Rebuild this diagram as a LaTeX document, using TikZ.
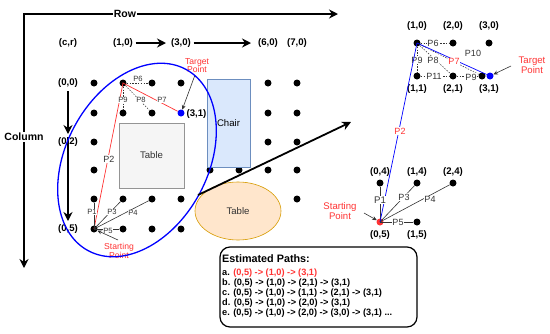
\documentclass[tikz,border=0pt]{standalone}
\usepackage{fontspec}
\setmainfont{Liberation Sans}
\usetikzlibrary{arrows.meta,shapes.geometric}
\definecolor{myred}{RGB}{255,51,51}
\definecolor{pgray}{RGB}{51,51,51}
\definecolor{chairfill}{RGB}{218,232,252}
\definecolor{chairdraw}{RGB}{108,142,191}
\definecolor{tablefill}{RGB}{245,245,245}
\definecolor{tabledraw}{RGB}{102,102,102}
\definecolor{otablefill}{RGB}{255,230,204}
\definecolor{otabledraw}{RGB}{215,155,0}
\begin{document}
\begin{tikzpicture}[x=1pt,y=-1pt,
  dot/.style={circle,fill=black,inner sep=0pt,minimum size=7pt},
  bdot/.style={circle,fill=blue,inner sep=0pt,minimum size=7pt},
  rdot/.style={circle,fill=myred,inner sep=0pt,minimum size=7pt},
  clbl/.style={font=\bfseries\fontsize{9.6}{11}\selectfont,inner sep=0.5pt},
  plbl/.style={font=\fontsize{7.6}{9}\selectfont,text=pgray,fill=white,inner sep=0.4pt},
  pbig/.style={font=\fontsize{9}{10}\selectfont,text=pgray,fill=white,inner sep=0.4pt},
  redlbl/.style={font=\fontsize{8.6}{9}\selectfont,text=myred,align=center,inner sep=0pt},
  bigarrow/.style={line width=1.7pt,-{Stealth[length=9pt,width=9pt]}},
  dlink/.style={pgray,line width=0.5pt,dash pattern=on 1.5pt off 1.3pt},
  slink/.style={pgray,line width=0.6pt},
  pointer/.style={pgray,line width=0.6pt,-{Stealth[length=4.5pt,width=4pt]}},
  pathline/.style={font=\bfseries\fontsize{9.2}{10}\selectfont,anchor=west,inner sep=0pt}]
\useasboundingbox (0,0) rectangle (550,333);

% axes
\coordinate (origin) at (24,14);
\coordinate (rowend) at (338,14);
\coordinate (colend) at (24,268);
\draw[line width=1.6pt,{Stealth[length=9pt,width=9pt]}-{Stealth[length=9pt,width=9pt]}] (rowend) -- (origin) -- (colend);
\node[fill=white,inner sep=1pt,font=\bfseries\fontsize{10.5}{12}\selectfont] (rowlbl) at (125,14) {Row};
\node[fill=white,inner sep=1pt,font=\bfseries\fontsize{10.5}{12}\selectfont] (collbl) at (24,137) {Column};

% header labels
\node[clbl] (cr) at (68,43) {(c,r)};
\node[clbl] (h10) at (123,43) {(1,0)};
\node[clbl] (h30) at (181,43) {(3,0)};
\node[clbl] (h60) at (268,43) {(6,0)};
\node[clbl] (h70) at (297,43) {(7,0)};
\node[clbl] (v00) at (68,83) {(0,0)};
\node[clbl] (v02) at (68,142) {(0,2)};
\node[clbl] (v05) at (68,229) {(0,5)};
\draw[bigarrow,line width=1.5pt] (h10.east) ++(2,0) coordinate (ha1) -- (166,43) coordinate (ha2);
\draw[bigarrow,line width=1.5pt] (h30.east) ++(2,0) coordinate (hb1) -- (251,43) coordinate (hb2);
\coordinate (va1) at (68,91); \coordinate (va2) at (68,134);
\coordinate (vb1) at (68,137); \coordinate (vb2) at (68,221);
\draw[bigarrow,line width=1.5pt] (va1) -- (va2);
\draw[bigarrow,line width=1.5pt] (vb1) -- (vb2);

% grid dots
\foreach \c/\r/\x/\y in {0/0/94/83,1/0/123/83,2/0/152/83,3/0/181/83,6/0/268/83,7/0/297/83,
  0/1/94/113,1/1/123/113,2/1/152/113,6/1/268/113,7/1/297/113,
  0/2/94/142,6/2/268/142,7/2/297/142,
  0/3/94/170,4/3/210/170,5/3/239/170,6/3/268/170,7/3/297/170,
  0/4/94/199,1/4/123/199,2/4/152/199,3/4/181/199,7/4/297/199,
  0/5/94/229,1/5/123/229,2/5/152/229,3/5/181/229}
  \node[dot] (L\c\r) at (\x,\y) {};
\node[bdot] (L31) at (181,113) {};
\node[clbl,anchor=west] (l31lbl) at (186,114) {(3,1)};

% obstacles
\node[draw=chairdraw,fill=chairfill,line width=0.6pt,minimum width=43pt,minimum height=88pt,inner sep=0pt,font=\fontsize{9.6}{11}\selectfont] (chair) at (228.5,123) {Chair};
\node[draw=tabledraw!70,fill=tablefill,line width=0.6pt,minimum width=65pt,minimum height=65pt,inner sep=0pt,font=\fontsize{9.6}{11}\selectfont,text=pgray] (table1) at (151.5,155.5) {Table};
\node[ellipse,draw=otabledraw,fill=otablefill,line width=0.6pt,minimum width=86pt,minimum height=58pt,inner sep=0pt,font=\fontsize{9.6}{11}\selectfont,text=pgray] (table2) at (238,211) {Table};

% left links
\draw[dlink] (L10) -- (L20);
\draw[dlink] (L10) -- (L21);
\draw[dlink] (L10) -- (L11);
\draw[myred,line width=0.7pt] (L05.center) -- (L10.center) -- (L31);
\node[plbl] (p6a) at (138,79) {P6};
\node[plbl] (p9a) at (123,100) {P9};
\node[plbl] (p8a) at (141,100) {P8};
\node[plbl] (p7a) at (162,100) {P7};
\node[pbig,text=pgray] (p2a) at (109,159) {P2};

\draw[slink] (L05.center) -- (L04);
\draw[slink] (L05.center) -- (L14);
\draw[slink] (L05.center) -- (L24);
\draw[slink] (L05.center) -- (L15);
\node[plbl] (p1a) at (92,212) {P1};
\node[plbl] (p3a) at (112,212) {P3};
\node[plbl] (p4a) at (133,213) {P4};
\node[plbl] (p5a) at (108,231) {P5};

\node[redlbl] (tpa) at (197,65.5) {Target\\[-1.5pt]Point};
\node[redlbl] (spa) at (119,251) {Starting\\[-0.5pt]Point};
\coordinate (tpa1) at (195,75);
\coordinate (spa1) at (118,240);
\draw[pointer] (tpa1) -- (L31);
\draw[pointer] (spa1) -- (L05);

% zone ellipse
\node[ellipse,draw=blue,line width=1.3pt,minimum width=206pt,minimum height=142pt,inner sep=0pt,rotate=61.7] (zone) at (137,160) {};

% zoom arrow
\coordinate (zoomfrom) at (198,195);
\coordinate (zoomto) at (351,122);
\draw[bigarrow,line width=1.8pt] (zoomfrom) -- (zoomto);

% right top detail
\node[dot] (R10) at (417,43) {};
\node[dot] (R20) at (453,43) {};
\node[dot] (R30) at (489,43) {};
\node[dot] (R11) at (417,76) {};
\node[dot] (R21) at (453,76) {};
\node[dot] (R31b) at (482,76) {};
\node[bdot] (R31) at (490,76) {};
\node[clbl] (r10l) at (417,26) {(1,0)};
\node[clbl] (r20l) at (453,26) {(2,0)};
\node[clbl] (r30l) at (489,26) {(3,0)};
\node[clbl] (r11l) at (417,89) {(1,1)};
\node[clbl] (r21l) at (453,89) {(2,1)};
\node[clbl] (r31l) at (489,89) {(3,1)};
\draw[dlink] (R10) -- (R20);
\draw[dlink] (R10) -- (R31b);
\draw[dlink] (R10) -- (R11);
\draw[dlink] (R10) -- (R21);
\draw[dlink] (R11) -- (R21);
\draw[dlink] (R21) -- (R31b);
\draw[blue,line width=0.7pt] (R10.center) -- (R31);
\node[pbig] (p6b) at (433,43) {P6};
\node[pbig] (p10b) at (473,53) {P10};
\node[pbig] (p9b) at (417,60) {P9};
\node[pbig] (p8b) at (433,60) {P8};
\node[pbig,text=myred] (p7b) at (454,61) {P7};
\node[pbig] (p11b) at (434,76) {P11};
\node[pbig] (p9c) at (471,77) {P9};
\node[redlbl,font=\fontsize{9.6}{10}\selectfont] (tpb) at (532,65.5) {Target\\[0pt]Point};
\coordinate (tpb1) at (511,66);
\draw[pointer] (tpb1) -- (R31);

% right bottom detail
\node[dot] (R04) at (380,183) {};
\node[dot] (R14) at (417,183) {};
\node[dot] (R24) at (453,183) {};
\node[rdot] (R05) at (380,222) {};
\node[dot] (R15) at (417,222) {};
\node[clbl] (r04l) at (380,172) {(0,4)};
\node[clbl] (r14l) at (417,172) {(1,4)};
\node[clbl] (r24l) at (453,172) {(2,4)};
\node[clbl] (r05l) at (380,235) {(0,5)};
\node[clbl] (r15l) at (417,235) {(1,5)};
\draw[slink] (R05.center) -- (R04);
\draw[slink] (R05.center) -- (R14);
\draw[slink] (R05.center) -- (R24);
\draw[slink] (R05.center) -- (R15);
\draw[blue,line width=0.7pt] (R05.center) -- (R10.center);
\node[pbig,font=\fontsize{9.6}{10}\selectfont] (p1b) at (380,200) {P1};
\node[pbig] (p3b) at (404,197) {P3};
\node[pbig] (p4b) at (430,199) {P4};
\node[pbig] (p5b) at (398,222) {P5};
\node[pbig,text=myred] (p2b) at (400,131) {P2};
\node[redlbl,font=\fontsize{9.6}{10}\selectfont] (spb) at (340,211.5) {Starting\\[0pt]Point};
\coordinate (spb1) at (364,213);
\draw[pointer] (spb1) -- (R05);

% estimated paths box
\draw[line width=1.2pt,rounded corners=10pt] (220,247) rectangle (417,327);
\node[pathline,font=\bfseries\fontsize{10.8}{12}\selectfont] (eph) at (222,259) {Estimated Paths:};
\node[pathline] (epa) at (222,273) {a. \textcolor{myred}{(0,5) -> (1,0) -> (3,1)}};
\node[pathline] (epb) at (222,283) {b. (0,5) -> (1,0) -> (2,1) -> (3,1)};
\node[pathline] (epc) at (222,293) {c. (0,5) -> (1,0) -> (1,1) -> (2,1) -> (3,1)};
\node[pathline] (epd) at (222,303) {d. (0,5) -> (1,0) -> (2,0) -> (3,1)};
\node[pathline] (epe) at (222,313) {e. (0,5) -> (1,0) -> (2,0) -> (3,0) -> (3,1) ...};
\end{tikzpicture}
\end{document}
